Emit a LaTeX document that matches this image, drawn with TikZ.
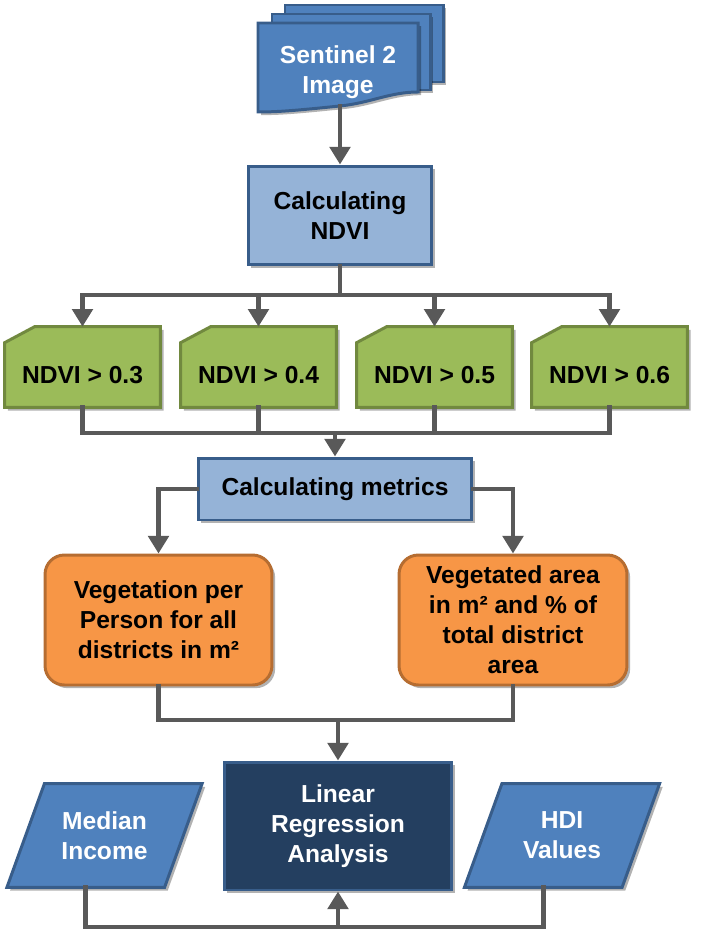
\documentclass[tikz,border=0pt]{standalone}
\usepackage{fontspec}
\setmainfont{Liberation Sans}
\usetikzlibrary{arrows.meta,shadows,backgrounds}
\definecolor{azul}{HTML}{4F81BD}
\definecolor{azulclaro}{HTML}{95B3D7}
\definecolor{borde}{HTML}{385D8A}
\definecolor{marino}{HTML}{243F60}
\definecolor{verde}{HTML}{9BBB59}
\definecolor{verdeborde}{HTML}{71893F}
\definecolor{naranja}{HTML}{F79646}
\definecolor{naranjaborde}{HTML}{B66D31}
\definecolor{gris}{HTML}{595959}
\tikzset{
  sombra/.style={drop shadow={shadow xshift=1.8pt,shadow yshift=-1.8pt,opacity=0.3,fill=black}},
  texto/.style={font=\fontsize{14}{17}\selectfont\bfseries,align=center},
  caja/.style={texto,draw=borde,line width=1.7pt,sombra,inner sep=2pt},
  hoja/.style={fill=azul,draw=borde,line width=1.7pt,sombra},
  linea/.style={gris,line width=2.8pt,line cap=rect},
  flecha/.style={linea,-{Triangle[width=11.5pt,length=10pt]}},
}

\begin{document}
\begin{tikzpicture}[x=0.02cm,y=-0.02cm]
  \useasboundingbox (0,0) rectangle (701,942);
  % imagen
  \node[texto,text=white] (img) at (338,72) {Sentinel 2\\Image};
  \coordinate (imgbot) at (340,106);
  % NDVI
  \node[caja,fill=azulclaro,minimum width=3.68cm,minimum height=1.98cm] (ndvi) at (340,215.5) {Calculating\\NDVI};
  % umbrales
  \foreach \n/\x/\v in {t3/82.5/0.3,t4/258.5/0.4,t5/434.5/0.5,t6/609.5/0.6}{
    \node[texto,minimum width=3.1cm,minimum height=1.28cm] (\n) at (\x,375) {NDVI > \v};
    \coordinate (\n top) at ([yshift=0.32cm]\n.north);
  }
  % metricas
  \node[caja,fill=azulclaro,minimum width=5.48cm,minimum height=1.24cm] (met) at (335,489) {Calculating metrics};
  \node[caja,draw=naranjaborde,fill=naranja,rounded corners=11pt,minimum width=4.54cm,minimum height=2.6cm] (veg) at (158.5,620) {Vegetation per\\Person for all\\districts in m²};
  \node[caja,draw=naranjaborde,fill=naranja,rounded corners=11pt,minimum width=4.56cm,minimum height=2.6cm] (area) at (513,620) {Vegetated area\\in m² and \% of\\total district\\area};
  % regresion
  \node[caja,fill=marino,text=white,minimum width=4.56cm,minimum height=2.56cm] (lra) at (338,826) {Linear\\Regression\\Analysis};
  \node[texto,text=white,minimum width=3.14cm,minimum height=2.06cm] (med) at (104.5,835.5) {Median\\Income};
  \node[texto,text=white,minimum width=3.14cm,minimum height=2.06cm] (hdi) at (562,835.5) {HDI\\Values};
  \coordinate (med pie) at ([xshift=-0.375cm]med.south);
  \coordinate (hdi pie) at ([xshift=-0.375cm]hdi.south);

  \begin{scope}[on background layer]
    % hojas
    \filldraw[hoja] (285,5) rectangle (443,82);
    \filldraw[hoja] (272,14) rectangle (430,90);
    \filldraw[hoja] (258,23) -- (418,23) -- (418,92)
      .. controls (390,92) and (370,103) .. (340,106) .. controls (300,110) and (280,112) .. (258,112) -- cycle;
    % tarjetas
    \foreach \n in {t3,t4,t5,t6}
      \filldraw[fill=verde,draw=verdeborde,line width=1.7pt,sombra] (\n.south west) -- (\n.north west)
        -- ([xshift=0.6cm,yshift=0.32cm]\n.north west) -- (\n top -| \n.north east) -- (\n.south east) -- cycle;
    % datos
    \foreach \n in {med,hdi}
      \filldraw[hoja] ([xshift=0.375cm]\n.north west) -- ([xshift=0.375cm]\n.north east)
        -- ([xshift=-0.375cm]\n.south east) -- ([xshift=-0.375cm]\n.south west) -- cycle;
  \end{scope}

  % flechas
  \draw[flecha] (imgbot) -- (ndvi.north);
  \coordinate (split) at (340,295);
  \draw[linea] (ndvi.south) -- (split);
  \draw[linea] (t3.north |- split) -- (t6.north |- split);
  \foreach \n in {t3,t4,t5,t6}
    \draw[flecha] (\n.north |- split) -- (\n top);
  \coordinate (join) at (335,433);
  \draw[linea] (t3.south) |- (join) -| (t6.south);
  \draw[linea] (t4.south) -- (t4.south |- join);
  \draw[linea] (t5.south) -- (t5.south |- join);
  \draw[flecha] (join) -- (met.north);
  \draw[flecha] (met.west) -| (veg.north);
  \draw[flecha] (met.east) -| (area.north);
  \coordinate (merge) at (338,720);
  \draw[linea] (veg.south) |- (merge) -| (area.south);
  \draw[flecha] (merge) -- (lra.north);
  \coordinate (bot) at (338,927);
  \draw[linea] (med pie) |- (bot) -| (hdi pie);
  \draw[flecha] (bot) -- (lra.south);
\end{tikzpicture}
\end{document}
